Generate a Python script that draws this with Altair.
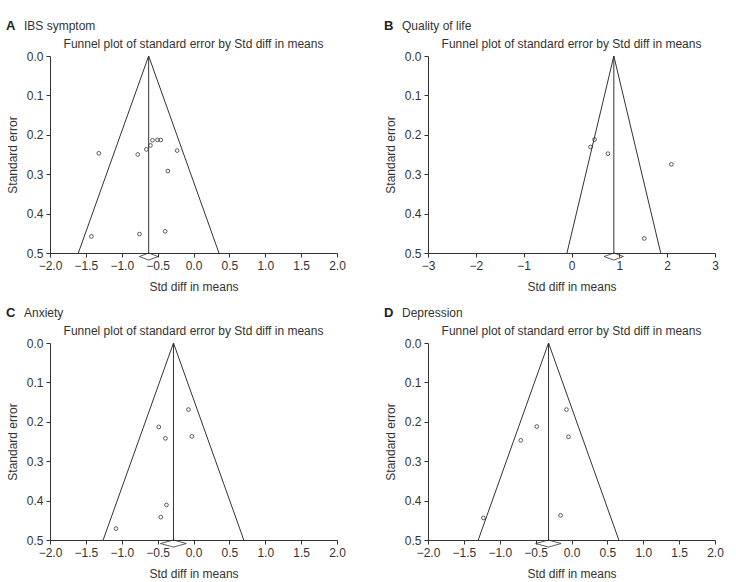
import altair as alt
import pandas as pd

INK = "#333333"
FONT = "Liberation Sans"

# Study-level effects (Std diff in means) and their standard errors
ibs_effect = [-1.32, -0.777, -0.656, -0.600, -0.572, -0.502, -0.456, -0.228, -0.358, -1.423, -0.753, -0.395]
ibs_se = [0.247, 0.250, 0.237, 0.227, 0.214, 0.213, 0.213, 0.240, 0.292, 0.458, 0.452, 0.445]

qol_effect = [0.398, 0.482, 0.761, 2.087, 1.522]
qol_se = [0.231, 0.212, 0.248, 0.275, 0.463]

anx_effect = [-0.070, -0.484, -0.391, -0.023, -0.377, -0.456, -1.079]
anx_se = [0.169, 0.213, 0.242, 0.237, 0.411, 0.442, 0.471]

dep_effect = [-0.070, -0.484, -0.707, -0.042, -0.153, -1.228]
dep_se = [0.169, 0.212, 0.247, 0.238, 0.4375, 0.444]

# Pooled estimates with their 95% confidence intervals (summary diamond)
ibs_pooled, ibs_ci = -0.625, (-0.755, -0.495)
qol_pooled, qol_ci = 0.885, (0.68, 1.085)
anx_pooled, anx_ci = -0.279, (-0.46, -0.10)
dep_pooled, dep_ci = -0.320, (-0.50, -0.145)

SE_MAX = 0.5
SE_TICKS = [0.0, 0.1, 0.2, 0.3, 0.4, 0.5]
DIAMOND_Y = 0.509     # diamond centre, just below the x axis
DIAMOND_HALF = 0.009  # half height of the diamond

W, H = 287, 197
PLOT_TITLE = "Funnel plot of standard error by Std diff in means"


def label(text, x, y, size=12, weight="normal", align="left", color=INK):
    return alt.Chart(pd.DataFrame({"t": [text]})).mark_text(
        align=align, baseline="middle", fontSize=size, fontWeight=weight, color=color, font=FONT
    ).encode(x=alt.value(x), y=alt.value(y), text="t:N")


def funnel_panel(letter, heading, effects, ses, pooled, ci, xdomain, xticks, xfmt):
    xs = alt.Scale(domain=xdomain, nice=False, zero=False)
    ys = alt.Scale(domain=[0, SE_MAX], reverse=True, nice=False, zero=False)
    xax = alt.Axis(values=xticks, tickCount=len(xticks), format=xfmt, title="Std diff in means",
                   labelOverlap=False, labelFlush=False)
    yax = alt.Axis(values=SE_TICKS, tickCount=len(SE_TICKS), format=".1f", title="Standard error",
                   labelOverlap=False, labelFlush=False)

    # 95% pseudo-confidence limits of the funnel
    half = 1.96 * SE_MAX
    sides = pd.DataFrame({
        "x": [pooled, pooled], "y": [0.0, 0.0],
        "x2": [pooled - half, pooled + half], "y2": [SE_MAX, SE_MAX],
    })
    funnel = alt.Chart(sides).mark_rule(color=INK, strokeWidth=1).encode(
        x=alt.X("x:Q", scale=xs, axis=xax),
        y=alt.Y("y:Q", scale=ys, axis=yax),
        x2="x2:Q", y2="y2:Q",
    )

    centre = alt.Chart(pd.DataFrame({"x": [pooled], "y": [0.0], "y2": [SE_MAX]})).mark_rule(
        color=INK, strokeWidth=1
    ).encode(x="x:Q", y="y:Q", y2="y2:Q")

    studies = alt.Chart(pd.DataFrame({"x": effects, "y": ses})).mark_point(
        shape="circle", filled=False, size=14, color=INK, strokeWidth=0.8, opacity=1
    ).encode(x="x:Q", y="y:Q")

    dia = pd.DataFrame({
        "x": [ci[0], pooled, ci[1], pooled, ci[0]],
        "y": [DIAMOND_Y, DIAMOND_Y - DIAMOND_HALF, DIAMOND_Y, DIAMOND_Y + DIAMOND_HALF, DIAMOND_Y],
        "o": [0, 1, 2, 3, 4],
    })
    diamond = alt.Chart(dia).mark_line(color=INK, strokeWidth=0.8).encode(
        x="x:Q", y="y:Q", order="o:Q"
    )

    tag = label(letter, -44, -30, size=13, weight="bold", color="#222222")
    head = label(heading, -26, -30)
    title = label(PLOT_TITLE, W / 2, -12, align="center")

    return alt.layer(funnel, centre, studies, diamond, tag, head, title).properties(
        width=W, height=H
    )


ticks_2 = [-2.0, -1.5, -1.0, -0.5, 0.0, 0.5, 1.0, 1.5, 2.0]
ticks_3 = [-3, -2, -1, 0, 1, 2, 3]

pA = funnel_panel("A", "IBS symptom", ibs_effect, ibs_se, ibs_pooled, ibs_ci, [-2, 2], ticks_2, ".1f")
pB = funnel_panel("B", "Quality of life", qol_effect, qol_se, qol_pooled, qol_ci, [-3, 3], ticks_3, "d")
pC = funnel_panel("C", "Anxiety", anx_effect, anx_se, anx_pooled, anx_ci, [-2, 2], ticks_2, ".1f")
pD = funnel_panel("D", "Depression", dep_effect, dep_se, dep_pooled, dep_ci, [-2, 2], ticks_2, ".1f")

chart = alt.concat(
    pA, pB, pC, pD, columns=2, spacing={"row": 90, "column": 91}, bounds="flush"
).properties(
    padding={"left": 6, "top": 20, "right": 5, "bottom": 5},
    background="white",
).configure_view(
    stroke=None
).configure_axis(
    grid=False,
    domainColor=INK, tickColor=INK, labelColor=INK, titleColor=INK,
    labelFont=FONT, titleFont=FONT, labelFontSize=12, titleFontSize=12,
    titleFontWeight="normal", tickSize=4, domainWidth=1, tickWidth=1,
).configure_axisX(
    labelPadding=3, titlePadding=10,
).configure_axisY(
    labelPadding=3, titlePadding=7,
)

chart.save("out.html", embed_options={"renderer": "svg", "actions": False})
